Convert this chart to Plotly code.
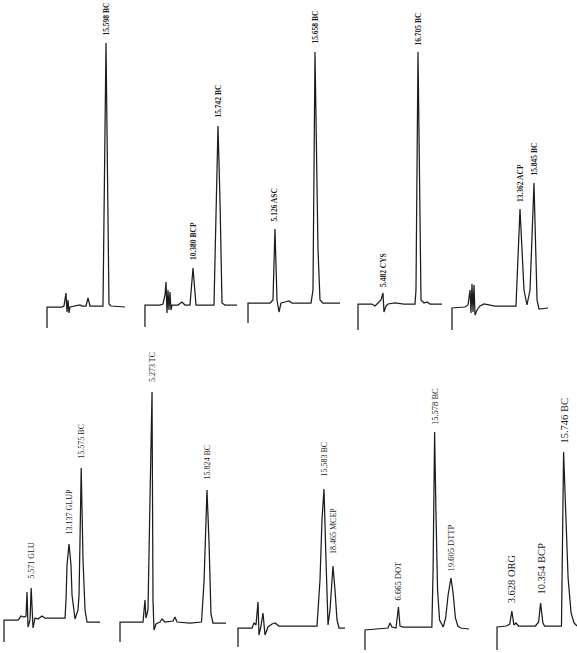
import plotly.graph_objects as go

W, H = 577, 653

# ---------------- data: retention time (min) and detector response (a.u., baseline = 0)
# top row
p1_t = [2.49, 2.49, 5.82, 6.26, 6.71, 6.93, 7.15, 7.37, 7.60, 9.15, 9.82, 10.26, 11.15, 11.60, 12.04, 14.93, 15.15, 15.598, 16.04, 16.26, 16.71, 19.82]
p1_r = [-21, 0, 0, 1, 14, -5, 7, -6, 0, 1, 2, 1, 1, 9, 1, 1, 90, 264, 90, 3, 1, 0]
p1_lab_t = [15.598]
p1_lab = ["15.598 BC"]

p2_t = [0.07, 0.07, 3.29, 3.94, 4.37, 4.58, 4.80, 5.01, 5.22, 5.44, 5.65, 5.87, 7.16, 8.01, 8.66, 9.73, 10.38, 11.02, 14.88, 15.31, 15.742, 16.17, 16.60, 17.24, 19.82]
p2_r = [-22, 0, 0, 1, 10, 23, -8, 15, -5, 13, -5, 0, 0, 3, 0, 0, 37, 0, 0, 105, 179, 105, 2, 0, 0]
p2_lab_t = [10.38, 15.742]
p2_lab = ["10.380 BCP", "15.742 BC"]

p3_t = [-1.97, -1.97, 3.82, 4.60, 5.126, 5.66, 6.19, 6.71, 7.77, 8.82, 9.61, 14.61, 15.13, 15.658, 16.45, 16.97, 17.76, 22.24]
p3_r = [-20, 0, 0, 3, 74, 3, -9, 0, 1, 2, 0, 0, 13, 251, 53, 3, 0, 0]
p3_lab_t = [5.126, 15.658]
p3_lab = ["5.126 ASC", "15.658 BC"]

p4_t = [-2.53, -2.53, 1.96, 2.92, 3.88, 4.85, 5.482, 5.81, 6.45, 7.09, 9.33, 12.22, 15.74, 16.06, 16.705, 17.35, 17.67, 18.63, 19.59, 20.55, 24.40]
p4_r = [-26, 0, 0, -2, 1, 4, 11, -8, -2, 0, 1, 0, 0, 14, 252, 54, 4, 1, 2, 0, 0]
p4_lab_t = [5.482, 16.705]
p4_lab = ["5.482 CYS", "16.705 BC"]

p5_t = [1.30, 1.30, 3.61, 4.14, 4.50, 4.67, 4.85, 5.03, 5.21, 5.38, 5.74, 6.27, 6.98, 7.69, 8.93, 12.65, 13.362, 14.07, 14.60, 15.14, 15.845, 16.38, 16.73, 18.33]
p5_r = [-22, 0, 1, 3, 18, -5, 24, -4, 23, -7, -2, 2, 4, 3, 2, 2, 99, 18, 3, 18, 125, 8, -1, 0]
p5_lab_t = [13.362, 15.845]
p5_lab = ["13.362 ACP", "15.845 BC"]

# bottom row
p6_t = [0.14, 0.14, 2.94, 3.54, 4.14, 4.54, 4.74, 4.94, 5.34, 5.571, 5.94, 6.34, 6.94, 7.74, 8.34, 12.34, 12.54, 12.74, 13.137, 13.54, 13.74, 14.14, 14.34, 14.94, 15.14, 15.34, 15.575, 15.94, 16.34, 16.74, 19.34]
p6_r = [-22, 0, 0, 4, 3, 4, 28, -7, 0, 32, -8, 2, 1, 4, 2, 2, 20, 55, 76, 55, 25, 5, 1, 10, 25, 80, 152, 60, 10, -2, -2]
p6_lab_t = [5.571, 13.137, 15.575]
p6_lab = ["5.571 GLU", "13.137 GLUP", "15.575 BC"]

p7_t = [-0.87, -0.87, 3.54, 3.92, 4.11, 4.50, 4.88, 5.273, 5.46, 5.65, 6.03, 6.80, 7.19, 7.76, 9.30, 9.68, 10.07, 12.56, 14.77, 15.25, 15.824, 16.21, 16.59, 16.97, 19.47]
p7_r = [-20, 0, 0, 22, 4, 12, 122, 230, 22, -8, -2, 0, 3, 0, 1, 5, 0, -1, 0, 40, 132, 80, 8, -1, -1]
p7_lab_t = [5.273, 15.824]
p7_lab = ["5.273 TC", "15.824 BC"]

p8_t = [-11.98, -11.98, -7.50, -6.85, -6.21, -5.57, -5.25, -4.61, -3.97, -3.33, -2.37, -1.08, -0.12, 1.16, 13.34, 14.30, 14.94, 15.583, 16.22, 16.87, 17.51, 18.465, 19.11, 19.75, 20.39, 22.31]
p8_r = [-19, 0, 0, 5, 3, 26, -7, 2, 15, -7, 1, 4, 5, 2, 2, 48, 108, 139, 68, 3, 18, 62, 38, 8, 0, 0]
p8_lab_t = [15.583, 18.465]
p8_lab = ["15.583 BC", "18.465 MCEP"]

p9_t = [-1.57, -1.57, 4.10, 4.59, 5.08, 6.07, 6.665, 7.05, 7.79, 14.9, 15.2, 15.578, 15.9, 16.3, 16.8, 17.7, 18.3, 18.9, 19.605, 20.1, 20.7, 21.3, 22.0, 24.05]
p9_r = [-20, 0, 2, 7, 3, 2, 23, 4, 3, 3, 60, 198, 120, 40, 10, 3, 12, 35, 52, 38, 12, 4, 2, 1]
p9_lab_t = [6.665, 15.578, 19.605]
p9_lab = ["6.665 DOT", "15.578 BC", "19.605 DTTP"]

p10_t = [0.15, 0.15, 2.4, 3.13, 3.628, 4.1, 4.6, 5.2, 9.15, 9.9, 10.354, 10.9, 11.3, 15.25, 15.746, 16.2, 16.8, 17.5, 18.2, 18.89]
p10_r = [-22, 1, 2, 4, 17, 3, 5, 2, 2, 6, 25, 5, 2, 2, 176, 120, 50, 15, 5, 2]
p10_lab_t = [3.628, 10.354, 15.746]
p10_lab = ["3.628 ORG", "10.354 BCP", "15.746 BC"]

series = [
    (p1_t, p1_r, p1_lab_t, p1_lab), (p2_t, p2_r, p2_lab_t, p2_lab),
    (p3_t, p3_r, p3_lab_t, p3_lab), (p4_t, p4_r, p4_lab_t, p4_lab),
    (p5_t, p5_r, p5_lab_t, p5_lab), (p6_t, p6_r, p6_lab_t, p6_lab),
    (p7_t, p7_r, p7_lab_t, p7_lab), (p8_t, p8_r, p8_lab_t, p8_lab),
    (p9_t, p9_r, p9_lab_t, p9_lab), (p10_t, p10_r, p10_lab_t, p10_lab),
]

# ---------------- layout geometry (pixels): left, right, anchor px, anchor time, px/min, baseline px, row
geom = [
    (40, 133, 106, 15.598, 4.5, 307, 0),
    (140, 243, 218, 15.742, 4.66, 305, 0),
    (243, 350, 315, 15.658, 3.80, 303, 0),
    (352, 446, 418, 16.705, 3.12, 304, 0),
    (446, 560, 520, 13.362, 5.64, 308, 0),
    (0, 110, 69, 13.137, 5.0, 620, 1),
    (112, 228, 207, 15.824, 5.21, 622, 1),
    (230, 352, 324, 15.583, 3.12, 628, 1),
    (355, 478, 428, 13.949, 4.06, 630, 1),
    (480, 577, 538.67, 9.909, 4.27, 628, 1),
]
label_size = [7.5, 7.5, 7.5, 7.5, 7.5, 8, 8, 8, 8.5, 10.5]
label_gap = [5, 6, 6, 4, 5, 7, 8, 10, 5, 6]
ROW_SPLIT = 340

fig = go.Figure()
for i, ((t, r, lt, lab), (xl, xr, ax, at, s, base, row)) in enumerate(zip(series, geom)):
    n = i + 1
    xa = "x" if n == 1 else f"x{n}"
    ya = "y" if n == 1 else f"y{n}"
    fig.add_trace(go.Scatter(x=t, y=r, mode="lines", xaxis=xa, yaxis=ya,
                             line=dict(color="#1c1c1c", width=1.25),
                             hoverinfo="skip", showlegend=False))
    xrng = [at + (xl - ax) / s, at + (xr - ax) / s]
    if row == 0:
        dom = [1 - ROW_SPLIT / H, 1]
        yrng = [base - ROW_SPLIT, base]
    else:
        dom = [0, 1 - ROW_SPLIT / H]
        yrng = [base - H, base - ROW_SPLIT]
    xkey = "xaxis" if n == 1 else f"xaxis{n}"
    ykey = "yaxis" if n == 1 else f"yaxis{n}"
    fig.update_layout(**{
        xkey: dict(domain=[xl / W, xr / W], range=xrng, visible=False, anchor=ya),
        ykey: dict(domain=dom, range=yrng, visible=False, anchor=xa),
    })
    for tt, txt in zip(lt, lab):
        yv = r[t.index(tt)]
        fig.add_annotation(x=tt, y=yv, xref=xa, yref=ya, text=txt, textangle=-90,
                           showarrow=False, xanchor="center", yanchor="bottom",
                           yshift=label_gap[i],
                           font=dict(family="Liberation Serif", size=label_size[i],
                                     color="#1c1c1c",
                                     weight="bold" if row == 0 else "normal"))

fig.update_layout(width=W, height=H, margin=dict(l=0, r=0, t=0, b=0),
                  paper_bgcolor="white", plot_bgcolor="white")
fig.write_html("out.html")
